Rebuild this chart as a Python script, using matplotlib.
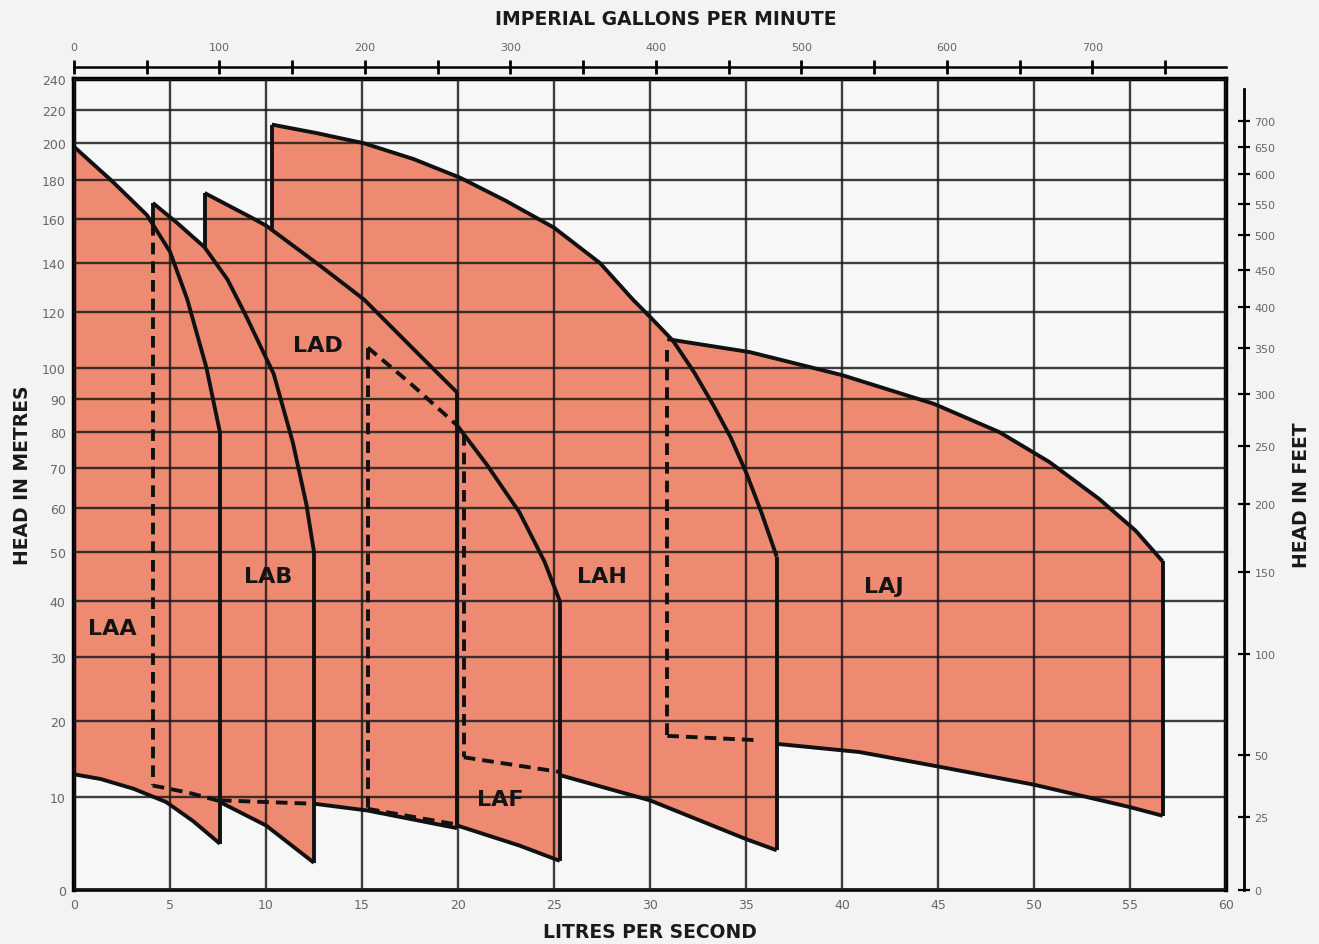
import numpy as np
import matplotlib.pyplot as plt

M_TO_FT = 3.28084
LPS_TO_GPM = 13.198
SALMON = '#ee8a72'

# pump ranges: flow in litres/second, head in metres
# "_hid" parts are the edges hidden behind the previous pump (drawn dashed)
laa_top_q = [0, 2, 3.8, 5.0, 5.9, 6.9, 7.45, 7.6]
laa_top_h = [198, 179, 162, 145, 125, 100, 84, 80]
laa_bot_q = [0, 1.4, 3.1, 4.8, 6.2, 7.6]
laa_bot_h = [12.8, 12.2, 11.0, 9.4, 7.2, 4.7]

lab_top_q = [4.1, 5.4, 6.8, 8.0, 9.0, 10.4, 11.4, 12.1, 12.5]
lab_top_h = [168, 158, 147, 133, 118, 98, 77, 61, 50]
lab_bot_hid_q = [4.1, 6.0, 7.6]
lab_bot_hid_h = [11.4, 10.5, 9.5]
lab_bot_q = [7.6, 10.0, 12.5]
lab_bot_h = [9.4, 6.7, 2.7]

lad_top_q = [6.8, 9.2, 10.0, 12.8, 15.1, 18.2, 19.95]
lad_top_h = [173, 161, 157, 139, 125, 103, 92]
lad_bot_hid_q = [7.6, 10.0, 12.5]
lad_bot_hid_h = [9.6, 9.4, 9.2]
lad_bot_q = [12.5, 15.3, 19.95]
lad_bot_h = [9.2, 8.4, 6.4]

laf_top_hid_q = [15.3, 17.5, 19.95]
laf_top_hid_h = [107, 95, 82]
laf_top_q = [19.95, 21.5, 23.2, 24.5, 25.3]
laf_top_h = [82, 71, 59, 48, 40]
laf_bot_hid_q = [15.3, 19.95]
laf_bot_hid_h = [8.6, 6.8]
laf_bot_q = [19.95, 23.2, 25.3]
laf_bot_h = [6.7, 4.5, 2.9]

lah_top_q = [10.3, 12.6, 15.1, 17.7, 20.1, 22.5, 25.0, 27.4, 29.1, 30.1,
             31.2, 32.3, 33.3, 34.2, 35.0, 35.8, 36.6]
lah_top_h = [211, 206, 200, 191, 181, 169, 156, 140, 125, 117.5,
             109.4, 98.5, 88, 78.5, 69, 59, 49]
lah_left_q = 20.3
lah_bot_hid_q = [20.3, 25.3]
lah_bot_hid_h = [15.0, 13.1]
lah_bot_q = [25.3, 30.0, 35.0, 36.6]
lah_bot_h = [12.7, 9.6, 5.2, 4.0]

laj_top_q = [30.9, 35.2, 40.0, 44.8, 48.2, 50.8, 53.4, 55.3, 56.7]
laj_top_h = [110, 105.4, 97.6, 88.4, 80, 71.7, 62.2, 54.7, 48]
laj_bot_hid_q = [30.9, 35.6]
laj_bot_hid_h = [17.9, 17.3]
laj_bot_q = [36.6, 40.9, 45.0, 50.0, 55.0, 56.7]
laj_bot_h = [16.8, 15.7, 13.8, 11.5, 8.8, 7.8]

names = ['LAA', 'LAB', 'LAD', 'LAF', 'LAH', 'LAJ']
name_q = [2.0, 10.1, 12.7, 22.2, 27.5, 42.2]
name_h = [35, 45, 108, 9.8, 45, 43]

m_ticks = [0, 10, 20, 30, 40, 50, 60, 70, 80, 90, 100, 120, 140, 160, 180, 200, 220, 240]
ft_ticks = [0, 25, 50, 100, 150, 200, 250, 300, 350, 400, 450, 500, 550, 600, 650, 700]
q_ticks = list(range(0, 61, 5))
gpm_ticks = list(range(0, 701, 100))
gpm_minor = list(range(50, 800, 100))


# the head axis is printed on a log(h + 40) scale
def m_fwd(h):
    return np.log10(np.clip(np.asarray(h, dtype=float) + 40.0, 1e-9, None))


def m_inv(v):
    return 10 ** np.asarray(v, dtype=float) - 40.0


def ft_fwd(f):
    return m_fwd(np.asarray(f, dtype=float) / M_TO_FT)


def ft_inv(v):
    return m_inv(v) * M_TO_FT


fig = plt.figure(figsize=(13.19, 9.45), dpi=100, facecolor='#f3f3f3')
ax = fig.add_axes([74 / 1319, 54 / 945, 1152 / 1319, 811 / 945])
ax.set_facecolor('#f7f7f7')
ax.set_yscale('function', functions=(m_fwd, m_inv))
ax.set_xlim(0, 60)
ax.set_ylim(0, 240)


def fill(q, h):
    ax.fill(q, h, color=SALMON, lw=0, zorder=1)


def edge(q, h, dashed=False):
    ls = (0, (3, 1.8)) if dashed else '-'
    ax.plot(q, h, color='#111', lw=2.8, ls=ls, solid_capstyle='butt',
            solid_joinstyle='round', zorder=4)


# filled areas
fill(laa_top_q + laa_bot_q[::-1], laa_top_h + laa_bot_h[::-1])
fill(lab_top_q + lab_bot_q[::-1] + lab_bot_hid_q[::-1],
     lab_top_h + lab_bot_h[::-1] + lab_bot_hid_h[::-1])
fill(lad_top_q + lad_bot_q[::-1] + lad_bot_hid_q[::-1] + [lad_top_q[0]],
     lad_top_h + lad_bot_h[::-1] + lad_bot_hid_h[::-1] + [lad_bot_hid_h[0]])
fill(laf_top_hid_q + laf_top_q + laf_bot_q[::-1] + laf_bot_hid_q[::-1],
     laf_top_hid_h + laf_top_h + laf_bot_h[::-1] + laf_bot_hid_h[::-1])
fill([lah_top_q[0]] + lah_top_q + lah_bot_q[::-1] + lah_bot_hid_q[::-1],
     [lah_bot_hid_h[0]] + lah_top_h + lah_bot_h[::-1] + lah_bot_hid_h[::-1])
fill(laj_bot_hid_q[:1] + laj_top_q + laj_bot_q[::-1] + laj_bot_hid_q[::-1],
     laj_bot_hid_h[:1] + laj_top_h + laj_bot_h[::-1] + laj_bot_hid_h[::-1])

# LAA
edge(laa_top_q, laa_top_h)
edge(laa_bot_q, laa_bot_h)
edge([laa_top_q[-1]] * 2, [laa_top_h[-1], laa_bot_h[-1]])

# LAB
lab_join = np.interp(lab_top_q[0], laa_top_q, laa_top_h)
edge(lab_top_q, lab_top_h)
edge([lab_top_q[0]] * 2, [lab_top_h[0], lab_join])
edge([lab_top_q[0]] * 2, [lab_join, lab_bot_hid_h[0]], dashed=True)
edge(lab_bot_hid_q, lab_bot_hid_h, dashed=True)
edge(lab_bot_q, lab_bot_h)
edge([lab_top_q[-1]] * 2, [lab_top_h[-1], lab_bot_h[-1]])

# LAD
lad_join = np.interp(lad_top_q[0], lab_top_q, lab_top_h)
edge(lad_top_q, lad_top_h)
edge([lad_top_q[0]] * 2, [lad_join, lad_top_h[0]])
edge(lad_bot_hid_q, lad_bot_hid_h, dashed=True)
edge(lad_bot_q, lad_bot_h)
edge([lad_top_q[-1]] * 2, [lad_top_h[-1], lad_bot_h[-1]])

# LAF
edge(laf_top_hid_q, laf_top_hid_h, dashed=True)
edge([laf_top_hid_q[0]] * 2, [laf_top_hid_h[0], laf_bot_hid_h[0]], dashed=True)
edge(laf_bot_hid_q, laf_bot_hid_h, dashed=True)
edge(laf_top_q, laf_top_h)
edge(laf_bot_q, laf_bot_h)
edge([laf_top_q[-1]] * 2, [laf_top_h[-1], laf_bot_h[-1]])

# LAH
lah_join = np.interp(lah_top_q[0], lad_top_q, lad_top_h)
lah_step = np.interp(lah_left_q, laf_top_q, laf_top_h)
edge(lah_top_q, lah_top_h)
edge([lah_top_q[0]] * 2, [lah_join, lah_top_h[0]])
edge([lah_left_q] * 2, [lah_step, lah_bot_hid_h[0]], dashed=True)
edge(lah_bot_hid_q, lah_bot_hid_h, dashed=True)
edge(lah_bot_q, lah_bot_h)
edge([lah_top_q[-1]] * 2, [lah_top_h[-1], lah_bot_h[-1]])

# LAJ
edge(laj_top_q, laj_top_h)
edge([laj_top_q[0]] * 2, [laj_top_h[0] - 4, laj_bot_hid_h[0]], dashed=True)
edge(laj_bot_hid_q, laj_bot_hid_h, dashed=True)
edge(laj_bot_q, laj_bot_h)
edge([laj_top_q[-1]] * 2, [laj_top_h[-1], laj_bot_h[-1]])

for name, q, h in zip(names, name_q, name_h):
    ax.text(q, h, name, ha='center', va='center', fontsize=16,
            fontweight='bold', color='#141414', zorder=5)

ax.set_xticks(q_ticks)
ax.set_yticks(m_ticks)
ax.set_yticklabels([str(t) for t in m_ticks])
ax.set_axisbelow(False)
ax.grid(True, color='#1c1c1c', lw=1.7, alpha=0.85)
ax.tick_params(length=0, labelsize=9, labelcolor='#666', pad=6)
for side in ['left', 'top', 'right']:
    ax.spines[side].set_linewidth(3.2)
ax.spines['bottom'].set_linewidth(2.6)

# head in feet, on a separate spine to the right
axr = ax.twinx()
axr.set_yscale('function', functions=(ft_fwd, ft_inv))
axr.set_ylim(0, 240 * M_TO_FT)
axr.set_yticks(ft_ticks)
axr.set_yticklabels([str(t) for t in ft_ticks])
for side in ['left', 'top', 'bottom']:
    axr.spines[side].set_visible(False)
axr.spines['right'].set_position(('outward', 13))
axr.spines['right'].set_linewidth(2)
axr.spines['right'].set_bounds(0, 765)
axr.tick_params(axis='y', direction='inout', length=9, width=1.6,
                labelsize=8, labelcolor='#666', pad=3)

# imperial gallons per minute, on a line above the chart
axt = fig.add_axes([74 / 1319, (945 - 68) / 945, 1152 / 1319, 1e-4])
axt.set_xlim(0, 60 * LPS_TO_GPM)
axt.patch.set_visible(False)
for side in ['left', 'top', 'right']:
    axt.spines[side].set_visible(False)
axt.spines['bottom'].set_linewidth(1.8)
axt.set_yticks([])
axt.set_xticks(gpm_ticks)
axt.set_xticks(gpm_minor, minor=True)
axt.tick_params(axis='x', which='both', direction='inout', length=10, width=2,
                bottom=True, top=False, labelbottom=False, labeltop=True,
                labelsize=8, labelcolor='#666', pad=6)

title_kw = dict(fontsize=13.5, fontweight='bold', color='#1a1a1a',
                ha='center', va='center')
fig.text(0.505, 0.979, 'IMPERIAL GALLONS PER MINUTE', **title_kw)
fig.text(0.493, 0.0127, 'LITRES PER SECOND', **title_kw)
fig.text(0.0167, 0.497, 'HEAD IN METRES', rotation=90, **title_kw)
fig.text(0.987, 0.476, 'HEAD IN FEET', rotation=90, **title_kw)

fig.savefig('out.png', dpi=100, facecolor=fig.get_facecolor())
